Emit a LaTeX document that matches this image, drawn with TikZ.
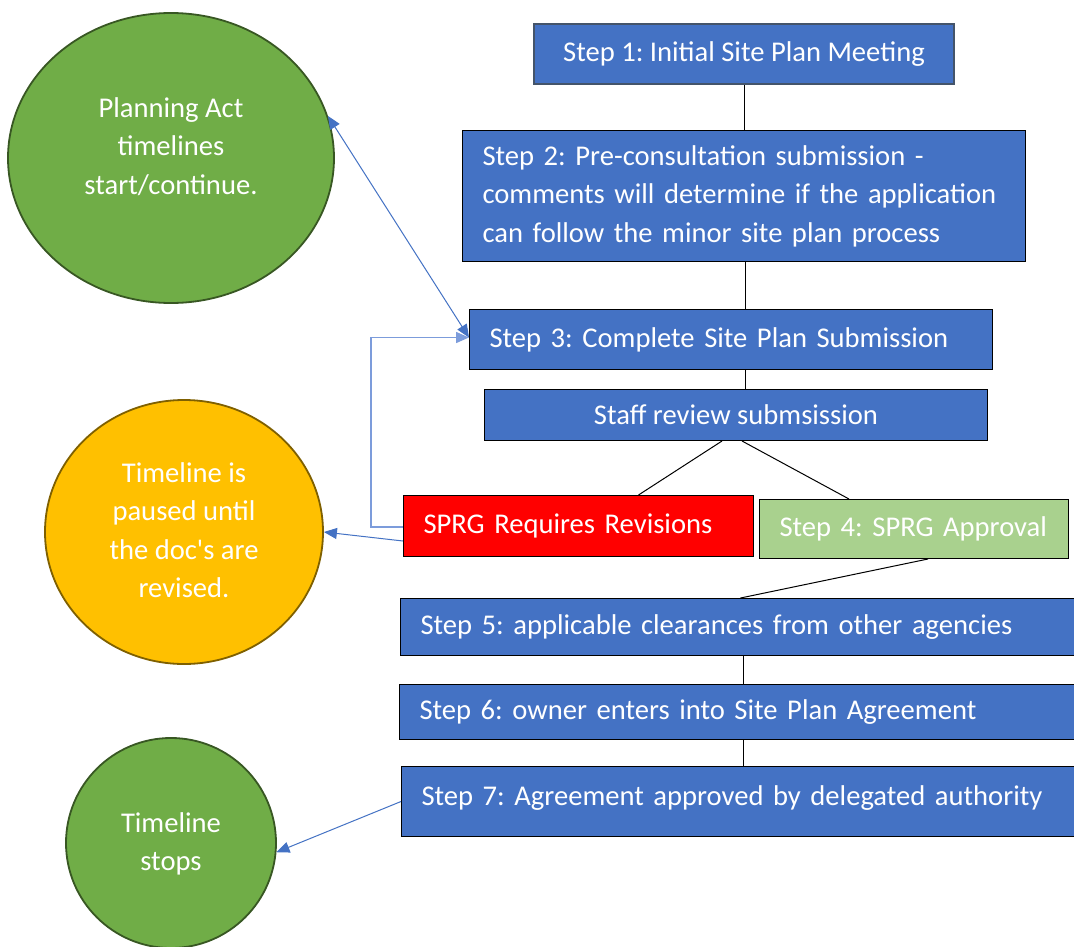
\documentclass[tikz,border=0pt]{standalone}
\usepackage{fontspec}
\setmainfont{Carlito}
\usetikzlibrary{shapes.geometric,arrows.meta}
\definecolor{bbox}{HTML}{4472C4}
\definecolor{gcirc}{HTML}{70AD47}
\definecolor{gbord}{HTML}{385723}
\definecolor{ycirc}{HTML}{FFC000}
\definecolor{ybord}{HTML}{7F6000}
\definecolor{lgreen}{HTML}{A9D18E}
\definecolor{slate}{HTML}{44546A}
\definecolor{lblue}{HTML}{7C9CDB}
\newcommand{\ctext}[2]{\makebox[0pt]{\raisebox{#1}{\smash{\parbox{260bp}{\centering #2}}}}}
\tikzset{
  txt/.style={font=\fontsize{28.6bp}{38.5bp}\selectfont, text=white},
  box/.style={txt, draw=black, line width=1bp, fill=bbox, anchor=north west, inner sep=0pt},
  lbox/.style={box, align=left, inner xsep=20bp},
  circ/.style={txt, ellipse, inner sep=0pt, line width=1.8bp},
  link/.style={draw=black, line width=1bp},
  barrow/.style={draw=bbox, line width=1bp, -{Triangle[length=13bp,width=11bp]}},
}
\begin{document}
\frenchspacing
\begin{tikzpicture}[x=1bp,y=-1bp]
\clip (0,0) rectangle (1074,947);
\fill[white] (0,0) rectangle (1074,947);

% boxes
\node[box, draw=slate, line width=2bp, minimum width=420bp, minimum height=60bp] (s1) at (533,23) {Step 1: Initial Site Plan Meeting};
\node[lbox, minimum width=563bp, minimum height=131bp, text width=523bp] (s2) at (462,130)
  {Step 2: Pre-consultation submission -\\comments will determine if the application\\can follow the minor site plan process};
\node[lbox, minimum width=523bp, minimum height=60bp, text width=483bp] (s3) at (469,309) {Step 3: Complete Site Plan Submission};
\node[box, minimum width=503bp, minimum height=51bp] (st) at (484,389) {Staff review submsission};
\node[lbox, fill=red, minimum width=350bp, minimum height=61bp, text width=310bp] (rev) at (403,495) {\mbox{SPRG Requires Revisions}};
\node[lbox, fill=lgreen, minimum width=309bp, minimum height=59bp, text width=269bp] (s4) at (759,499) {\mbox{Step 4: SPRG Approval}};
\node[lbox, minimum width=690bp, minimum height=57bp, text width=650bp] (s5) at (400,598) {Step 5: applicable clearances from other agencies};
\node[lbox, minimum width=690bp, minimum height=55bp, text width=650bp] (s6) at (399,684) {Step 6: owner enters into Site Plan Agreement};
\node[lbox, minimum width=690bp, minimum height=70bp, text width=650bp] (s7) at (401,766) {\raisebox{12bp}{Step 7: Agreement approved by delegated authority}};

% circles
\node[circ, fill=gcirc, draw=gbord, minimum width=326bp, minimum height=290bp] (pa) at (171,158) {\ctext{11bp}{Planning Act\\timelines\\start/continue.}};
\node[circ, fill=ycirc, draw=ybord, minimum width=278bp, minimum height=264bp] (yc) at (184,532) {\ctext{-9bp}{Timeline is\\paused until\\the doc\textquotesingle s are\\revised.}};
\node[circ, fill=gcirc, draw=gbord, minimum width=210bp, minimum height=210bp] (ts) at (171,843) {\ctext{-14bp}{Timeline\\stops}};

% links
\draw[link] (s1.south) -- (s1.south |- s2.north);
\draw[link] ([xshift=1bp]s2.south) -- ([xshift=1bp]s2.south |- s3.north);
\draw[link] ([xshift=14bp]s3.south) -- ([xshift=14bp]s3.south |- st.north);
\draw[link] ([xshift=-14bp]st.south) -- ([xshift=60bp]rev.north);
\draw[link] ([xshift=6bp]st.south) -- ([xshift=-65bp]s4.north);
\draw[link] ([xshift=14bp]s4.south) -- ([xshift=-5bp]s5.north);
\draw[link] ([xshift=-2bp]s5.south) -- ([xshift=-2bp]s5.south |- s6.north);
\draw[link] ([xshift=-1bp]s6.south) -- ([xshift=-1bp]s6.south |- s7.north);

% blue connectors
\draw[barrow, draw=lblue, line width=1.5bp] ([yshift=-1bp]rev.west) -- ++(-32,0) |- ([yshift=2bp]s3.west);
\draw[barrow, {Triangle[length=13bp,width=11bp]}-{Triangle[length=13bp,width=11bp]}] (pa.15) -- ([yshift=2bp]s3.west);
\draw[barrow] ([yshift=-15bp]rev.west) -- (yc.east);
\draw[barrow] (s7.west) -- (ts.-5);
\end{tikzpicture}
\end{document}
